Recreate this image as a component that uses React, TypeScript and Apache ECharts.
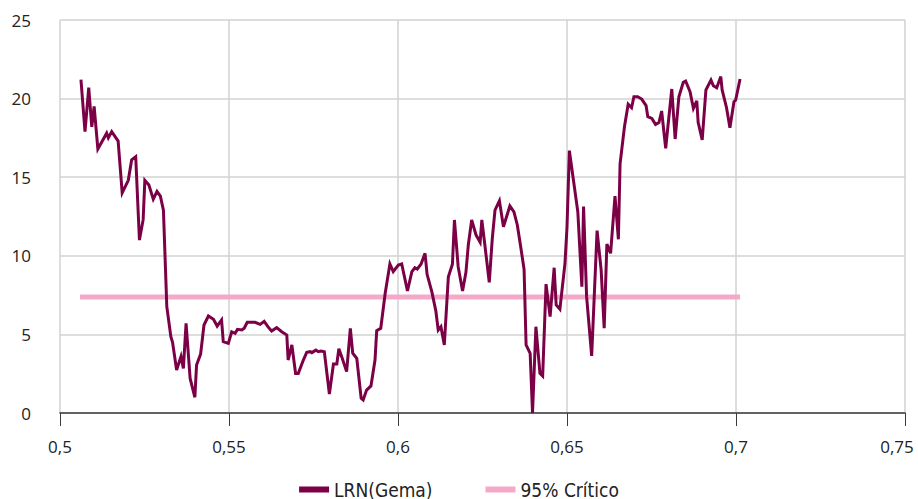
import React, { useEffect, useRef } from "react";
import * as echarts from "echarts";

// LRN(Gema) statistic against the threshold parameter
const lrnX = [
  0.5062, 0.5074, 0.5085, 0.5094, 0.5101, 0.5112, 0.5138, 0.5143, 0.5153, 0.5172,
  0.5184, 0.5202, 0.5212, 0.5224, 0.5235, 0.5246, 0.5251, 0.5263, 0.5276, 0.5287,
  0.5297, 0.5306, 0.5316, 0.5328, 0.5333, 0.5345, 0.5358, 0.5365, 0.5373, 0.5385,
  0.5399, 0.5404, 0.5416, 0.5426, 0.5439, 0.5454, 0.5465, 0.5478, 0.5483, 0.5498,
  0.5508, 0.5518, 0.5525, 0.5538, 0.5545, 0.5554, 0.5577, 0.5592, 0.5604, 0.5615,
  0.5626, 0.5641, 0.5656, 0.5671, 0.5675, 0.5686, 0.5697, 0.5705, 0.5720, 0.5730,
  0.5740, 0.5745, 0.5757, 0.5764, 0.5772, 0.5782, 0.5797, 0.5809, 0.5819, 0.5825,
  0.5835, 0.5848, 0.5859, 0.5866, 0.5878, 0.5891, 0.5897, 0.5907, 0.5920, 0.5932,
  0.5937, 0.5949, 0.5962, 0.5976, 0.5986, 0.6001, 0.6011, 0.6028, 0.6041, 0.6050,
  0.6057, 0.6068, 0.6080, 0.6086, 0.6100, 0.6112, 0.6119, 0.6127, 0.6137, 0.6149,
  0.6161, 0.6167, 0.6178, 0.6191, 0.6201, 0.6208, 0.6218, 0.6231, 0.6243, 0.6248,
  0.6257, 0.6270, 0.6279, 0.6287, 0.6300, 0.6312, 0.6331, 0.6343, 0.6353, 0.6363,
  0.6373, 0.6379, 0.6391, 0.6398, 0.6408, 0.6420, 0.6428, 0.6438, 0.6450, 0.6462,
  0.6468, 0.6479, 0.6494, 0.6500, 0.6507, 0.6519, 0.6532, 0.6544, 0.6549, 0.6558,
  0.6573, 0.6589, 0.6601, 0.6610, 0.6618, 0.6629, 0.6642, 0.6652, 0.6657, 0.6670,
  0.6681, 0.6691, 0.6698, 0.6709, 0.6721, 0.6734, 0.6739, 0.6751, 0.6762, 0.6772,
  0.6780, 0.6792, 0.6810, 0.6820, 0.6831, 0.6844, 0.6851, 0.6864, 0.6874, 0.6884,
  0.6888, 0.6900, 0.6911, 0.6926, 0.6933, 0.6943, 0.6955, 0.6959, 0.6972, 0.6982,
  0.6994, 0.6999, 0.7012,
];

const lrnY = [
  21.2, 17.9, 20.7, 18.2, 19.5, 16.8, 17.8, 17.5, 17.9, 17.3,
  14.0, 14.8, 16.1, 16.3, 11.0, 12.3, 14.8, 14.5, 13.6, 14.1,
  13.8, 12.9, 6.76, 4.85, 4.5, 2.74, 3.6, 2.84, 5.7, 2.2,
  1.0, 3.05, 3.75, 5.6, 6.17, 5.96, 5.53, 5.92, 4.54, 4.43,
  5.17, 5.07, 5.32, 5.28, 5.39, 5.77, 5.77, 5.64, 5.83, 5.49,
  5.22, 5.43, 5.17, 4.96, 3.37, 4.33, 2.52, 2.52, 3.37, 3.86,
  3.9, 3.84, 4.0, 3.9, 3.94, 3.9, 1.21, 3.12, 3.12, 4.09,
  3.48, 2.63, 5.39, 3.8, 3.48, 0.94, 0.83, 1.46, 1.72, 3.37,
  5.24, 5.39, 7.6, 9.48, 8.99, 9.41, 9.48, 7.76, 8.99, 9.24,
  9.16, 9.46, 10.16, 8.82, 7.72, 6.49, 5.28, 5.49, 4.33, 8.67,
  9.46, 12.28, 9.31, 7.76, 8.95, 10.69, 12.28, 11.32, 10.86, 12.28,
  10.69, 8.31, 11.11, 12.91, 13.5, 11.85, 13.17, 12.8, 11.96, 10.58,
  9.14, 4.33, 3.8, 0.0, 5.49, 2.52, 2.35, 8.2, 6.13, 9.24,
  6.87, 6.6, 9.52, 11.81, 16.69, 14.82, 12.8, 8.03, 13.13, 7.4,
  3.63, 11.6, 9.1, 5.39, 10.75, 10.16, 13.8, 11.05, 15.85, 18.21,
  19.64, 19.42, 20.12, 20.12, 19.97, 19.55, 18.85, 18.74, 18.36, 18.48,
  19.21, 16.84, 20.61, 17.43, 20.12, 21.04, 21.12, 20.44, 19.38, 19.85,
  18.49, 17.37, 20.55, 21.18, 20.82, 20.69, 21.4, 20.55, 19.42, 18.15,
  19.8, 19.91, 21.25,
];

// 95% critical value, constant over the same range
const criticalX = [0.5059, 0.7012];
const criticalY = [7.38, 7.38];

const xTicks = { min: 0.5, max: 0.75, interval: 0.05 };
const yTicks = { min: 0, max: 25, interval: 5 };

const seriesNames = ["LRN(Gema)", "95% Crítico"];

const zip = (xs: number[], ys: number[]) => xs.map((x, i) => [x, ys[i]]);

export default function App() {
  const ref = useRef<HTMLDivElement>(null);

  useEffect(() => {
    if (!ref.current) return;
    const chart = echarts.init(ref.current, undefined, { renderer: "svg" });
    const labelFont = "'Open Sans', 'Noto Sans', sans-serif";
    chart.setOption({
      animation: false,
      backgroundColor: "#ffffff",
      grid: { left: 60, right: 13, top: 20, bottom: 86, containLabel: false },
      xAxis: {
        type: "value",
        min: xTicks.min,
        max: xTicks.max,
        interval: xTicks.interval,
        axisLine: { show: true, lineStyle: { color: "#3a3a3a", width: 1.5 } },
        axisTick: { show: true, length: 13, lineStyle: { color: "#3a3a3a", width: 1 } },
        splitLine: { show: true, lineStyle: { color: "#d2d2d2", width: 1.5 } },
        axisLabel: {
          margin: 25,
          color: "#222",
          fontFamily: labelFont,
          fontSize: 17,
          formatter: (v: number) => {
            const s = String(+v.toFixed(2)).replace(".", ",");
            // keep the last label inside the chart edge
            return v >= xTicks.max - 1e-9 ? `{last|${s}}` : s;
          },
          rich: {
            last: {
              padding: [0, 16, 0, 0],
              color: "#222",
              fontFamily: labelFont,
              fontSize: 17,
            },
          },
        },
      },
      yAxis: {
        type: "value",
        min: yTicks.min,
        max: yTicks.max,
        interval: yTicks.interval,
        axisLine: { show: false },
        axisTick: { show: false },
        splitLine: { show: true, lineStyle: { color: "#d2d2d2", width: 1.5 } },
        axisLabel: {
          margin: 29,
          color: "#222",
          fontFamily: labelFont,
          fontSize: 17,
        },
      },
      legend: {
        top: 475,
        left: "center",
        icon: "rect",
        itemWidth: 30,
        itemHeight: 6,
        itemGap: 53,
        textStyle: {
          color: "#222",
          fontSize: 19,
          fontFamily: "'Liberation Sans Narrow', 'DejaVu Sans Condensed', sans-serif",
        },
        data: seriesNames,
      },
      series: [
        {
          name: seriesNames[1],
          type: "line",
          data: zip(criticalX, criticalY),
          symbol: "none",
          lineStyle: { color: "#f4a9c9", width: 5 },
          itemStyle: { color: "#f4a9c9" },
          z: 2,
        },
        {
          name: seriesNames[0],
          type: "line",
          data: zip(lrnX, lrnY),
          symbol: "none",
          lineStyle: { color: "#7b0046", width: 3, join: "miter" },
          itemStyle: { color: "#7b0046" },
          z: 3,
        },
      ],
    });
    return () => chart.dispose();
  }, []);

  return (
    <div
      ref={ref}
      style={{ position: "absolute", left: 0, top: 0, width: 918, height: 499 }}
    />
  );
}
